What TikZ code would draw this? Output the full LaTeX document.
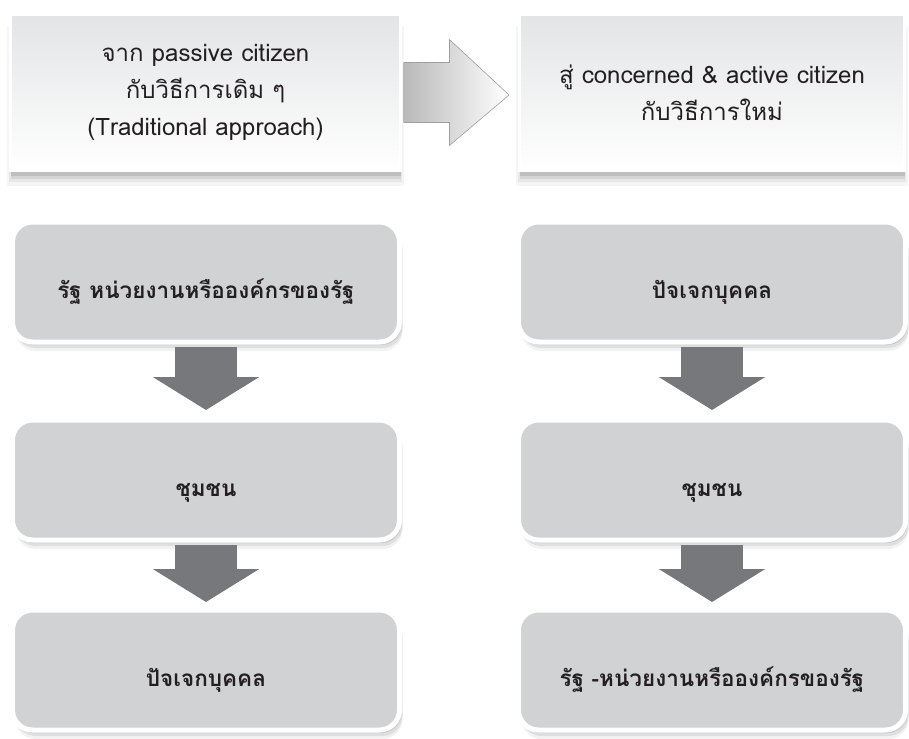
\documentclass[tikz,border=0pt]{standalone}
\usepackage{fontspec}
\setmainfont[Script=Thai]{Loma}
\usetikzlibrary{positioning, arrows.meta, calc, shadows}

\definecolor{boxgray}{HTML}{D1D2D4}
\definecolor{arrowgray}{HTML}{77787B}
\definecolor{inkgray}{HTML}{231F20}
\definecolor{topgray}{HTML}{E3E4E6}

\tikzset{
  softshadow/.style={
    general shadow={shadow xshift=0pt, shadow yshift=-14pt, shadow scale=1.02, fill=black, opacity=.04},
    general shadow={shadow xshift=0pt, shadow yshift=-11pt, shadow scale=1.01, fill=black, opacity=.06},
    general shadow={shadow xshift=0pt, shadow yshift=-8pt, fill=black, opacity=.08},
    general shadow={shadow xshift=0pt, shadow yshift=-5pt, fill=black, opacity=.10}},
  headbox/.style={rectangle, draw=white, line width=3pt, top color=topgray, bottom color=white,
    minimum width=390pt, minimum height=156pt, align=center, text=inkgray,
    font=\fontsize{24}{37}\selectfont, softshadow},
  stagebox/.style={rectangle, rounded corners=20pt, draw=white, line width=5pt, fill=boxgray,
    minimum width=387pt, minimum height=120pt, align=center, text=inkgray,
    text height=32pt, text depth=0pt,
    font=\bfseries\fontsize{22.5}{26}\selectfont,
    general shadow={shadow xshift=3pt, shadow yshift=-9pt, fill=black, opacity=.05},
    general shadow={shadow xshift=3pt, shadow yshift=-6pt, fill=black, opacity=.08},
    general shadow={shadow xshift=2pt, shadow yshift=-3pt, fill=black, opacity=.10}},
  downarrow/.style={draw=arrowgray, line width=62pt, -{Triangle[length=33pt, width=105pt]}},
}

\begin{document}
\begin{tikzpicture}[x=1pt, y=-1pt]

\useasboundingbox (0,0) rectangle (909,738);

% Heading boxes
\node[headbox] (tl) at (205.5,92.5) {จาก passive citizen\\กับวิธีการเดิม ๆ\\(Traditional approach)};
\node[headbox, minimum width=385pt] (tr) at (712,92.5) {สู่ concerned \& active citizen\\กับวิธีการใหม่};

% Big arrow between the headings
\path[draw=gray!75, line width=0.6pt, left color=gray!55, right color=white]
  ($(tl.east)+(1.5,-30)$) -- ++(46,0) -- ++(0,-23) -- ($(tr.west)+(-9,2.5)$)
  -- ($(tl.east)+(47.5,53)$) -- ++(0,-23) -- ($(tl.east)+(1.5,30)$);

% Stage boxes, left column
\node[stagebox] (l1) at (206,282) {รัฐ หน่วยงานหรือองค์กรของรัฐ};
\node[stagebox] (l2) at (206,480) {ชุมชน};
\node[stagebox] (l3) at (206,670) {ปัจเจกบุคคล};

% Stage boxes, right column
\node[stagebox] (r1) at (712,282) {ปัจเจกบุคคล};
\node[stagebox] (r2) at (712,480) {ชุมชน};
\node[stagebox] (r3) at (712,670) {รัฐ -หน่วยงานหรือองค์กรของรัฐ};

% Down arrows
\foreach \c in {l,r} {
  \draw[downarrow, shorten <=2.5pt, shorten >=7.5pt] (\c1.south) -- (\c2.north);
  \draw[downarrow, shorten <=2.5pt, shorten >=5.5pt] (\c2.south) -- (\c3.north);
}

\end{tikzpicture}
\end{document}
